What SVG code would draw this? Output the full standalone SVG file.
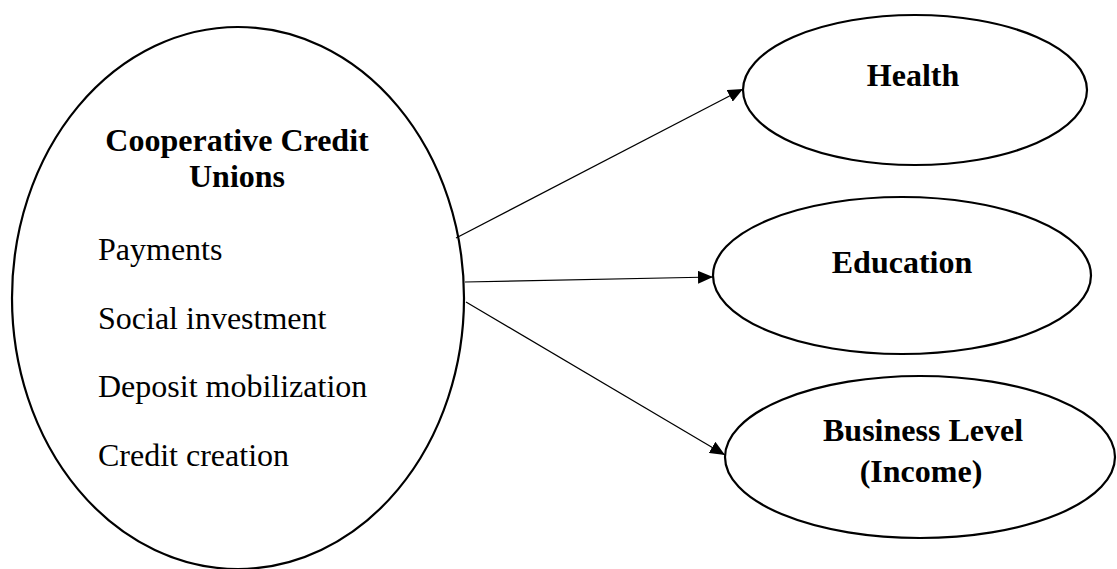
<svg xmlns="http://www.w3.org/2000/svg" width="1117" height="569" viewBox="0 0 1117 569">
  <style>
    .node { fill: #ffffff; stroke: #000000; stroke-width: 2.2; }
    .title { font-family: "Liberation Serif", "Times New Roman", serif; font-weight: bold; font-size: 32px; fill: #000000; text-anchor: middle; }
    .item { font-family: "Liberation Serif", "Times New Roman", serif; font-size: 32px; fill: #000000; }
    .conn { stroke: #000000; stroke-width: 1.2; fill: none; marker-end: url(#arrow); }
  </style>
  <defs>
    <marker id="arrow" markerUnits="userSpaceOnUse" markerWidth="15" markerHeight="13" refX="15" refY="6.5" orient="auto">
      <path d="M0,0 L15,6.5 L0,13 z" fill="#000000"/>
    </marker>
  </defs>
  <rect width="1117" height="569" fill="#ffffff"/>

  <g id="node-ccu">
    <ellipse class="node" cx="238" cy="298" rx="226" ry="271"/>
    <text class="title" x="237" y="151">Cooperative Credit</text>
    <text class="title" x="237" y="187">Unions</text>
    <text class="item" x="98" y="260">Payments</text>
    <text class="item" x="98" y="329">Social investment</text>
    <text class="item" x="98" y="397">Deposit mobilization</text>
    <text class="item" x="98" y="466">Credit creation</text>
  </g>

  <g id="node-health">
    <ellipse class="node" cx="915" cy="90" rx="172" ry="75"/>
    <text class="title" x="913" y="86">Health</text>
  </g>

  <g id="node-education">
    <ellipse class="node" cx="902" cy="275.5" rx="189" ry="78.5"/>
    <text class="title" x="902" y="273">Education</text>
  </g>

  <g id="node-business">
    <ellipse class="node" cx="920" cy="457" rx="195" ry="81"/>
    <text class="title" x="923" y="441">Business Level</text>
    <text class="title" x="921" y="482">(Income)</text>
  </g>

  <g id="connectors">
    <line class="conn" x1="456" y1="238" x2="743" y2="89"/>
    <line class="conn" x1="465" y1="282" x2="713" y2="277"/>
    <line class="conn" x1="466" y1="302" x2="725" y2="455"/>
  </g>
</svg>
